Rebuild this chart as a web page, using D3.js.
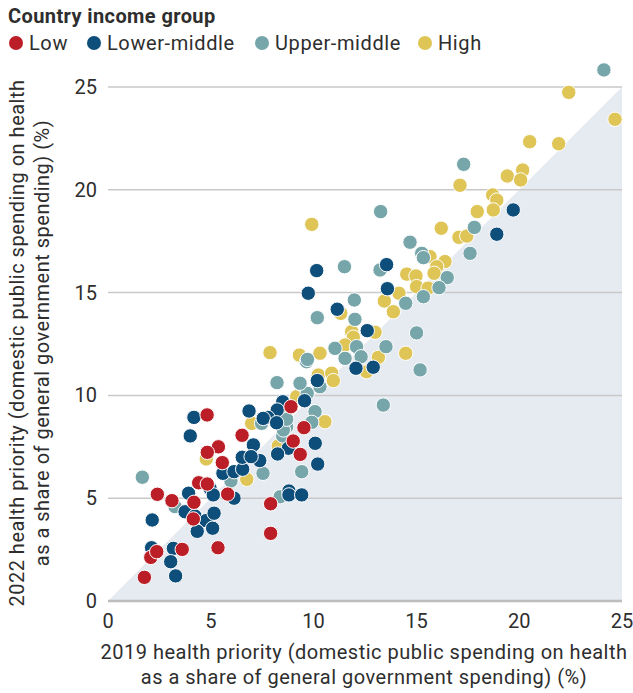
<!DOCTYPE html>
<html>
<head>
<meta charset="utf-8">
<script src="https://cdn.jsdelivr.net/npm/d3@7"></script>
<style>
  html, body { margin: 0; padding: 0; background: #fff; }
  svg { display: block; }
  text { font-family: "Roboto", "DejaVu Sans", sans-serif; fill: #2e2e2e; }
</style>
</head>
<body>
<svg id="chart" width="633" height="693"></svg>
<script>
// ---- Data ----
const groups = ["Low", "Lower-middle", "Upper-middle", "High"];
const groupColors = ["#BC1E27", "#0D4E7A", "#77A6AA", "#DEC555"];
const xTicks = [0, 5, 10, 15, 20, 25];
const yTicks = [0, 5, 10, 15, 20, 25];
const legendTitle = "Country income group";
const xTitle = ["2019 health priority (domestic public spending on health", "as a share of general government spending) (%)"];
const yTitle = ["2022 health priority (domestic public spending on health", "as a share of general government spending) (%)"];

// [2019, 2022] per country
const lowPoints = [
  [1.77,1.15],[2.08,2.12],[2.37,2.40],[3.61,2.51],[5.35,2.59],[2.40,5.19],[3.11,4.88],
  [4.18,4.80],[4.15,3.99],[4.41,5.75],[4.83,5.69],[5.82,5.20],[5.56,6.73],[5.37,7.50],
  [4.83,7.23],[4.82,9.05],[6.52,8.06],[7.91,4.73],[7.91,3.29],[9.01,7.78],[8.90,9.45],
  [9.53,8.43],[9.35,7.13]
];
const lowerMiddlePoints = [
  [2.15,3.94],[3.92,5.24],[3.75,4.34],[4.23,4.13],[4.77,3.91],[5.16,4.27],[5.09,3.54],
  [4.34,3.39],[4.96,5.48],[5.12,5.16],[6.13,5.00],[5.59,6.21],[6.13,6.29],[6.55,6.41],
  [6.53,6.99],[3.18,2.56],[3.05,1.91],[3.29,1.22],[2.12,2.59],[4.18,8.93],[4.00,8.03],
  [6.86,9.24],[7.07,7.59],[7.38,6.83],[8.80,5.35],[8.77,7.43],[8.25,7.15],[8.50,9.69],
  [10.18,10.72],[9.56,9.74],[10.08,7.67],[10.20,6.66],[8.80,5.16],[9.42,5.16],[8.23,9.29],
  [7.77,8.93],[7.55,8.88],[6.96,7.02],[10.15,16.07],[13.55,16.36],[9.74,14.97],[13.59,15.19],
  [11.15,14.19],[12.61,13.15],[12.06,11.32],[12.90,11.37],[8.20,8.67],[19.71,19.02],[18.91,17.84]
];
const upperMiddlePoints = [
  [1.67,6.02],[3.26,4.59],[5.98,5.84],[7.54,6.21],[8.37,5.07],[8.22,10.62],[9.37,10.55],
  [9.66,11.64],[8.29,9.13],[9.69,10.10],[10.07,9.21],[9.91,8.69],[9.42,6.29],[8.69,8.48],
  [8.50,8.03],[8.23,8.72],[7.47,8.64],[11.50,16.26],[13.23,16.10],[15.26,16.91],[16.50,15.73],
  [16.10,15.24],[15.34,14.80],[14.48,14.48],[11.98,14.64],[10.18,13.78],[12.01,13.70],
  [15.01,13.04],[12.09,12.37],[11.04,12.29],[13.52,12.37],[12.31,11.88],[11.53,11.80],
  [15.18,11.24],[9.70,11.75],[13.39,9.53],[10.31,10.42],[9.34,10.59],[8.53,8.32],
  [13.26,18.94],[17.82,18.17],[17.61,16.91],[14.69,17.45],[15.34,16.70],[24.12,25.83],
  [17.30,21.24],[8.69,8.84]
];
const highPoints = [
  [6.75,5.92],[4.78,6.91],[6.99,8.64],[8.28,7.54],[9.18,9.94],[10.20,11.00],[10.55,8.72],
  [9.91,18.32],[15.66,16.75],[16.39,16.51],[15.99,16.26],[15.86,15.94],[14.53,15.90],
  [14.98,15.81],[15.01,15.29],[15.57,15.22],[14.15,14.97],[13.44,14.59],[13.88,14.07],
  [11.32,13.99],[12.99,13.07],[11.85,13.10],[11.93,12.83],[11.53,12.45],[13.15,11.85],
  [14.48,12.05],[12.58,11.15],[7.88,12.08],[9.31,11.96],[10.31,12.05],[10.23,10.99],
  [10.88,11.08],[10.96,10.72],[17.96,18.94],[16.21,18.13],[17.07,17.69],[17.45,17.75],
  [22.41,24.74],[24.66,23.43],[20.51,22.34],[21.92,22.24],[17.12,20.22],[19.42,20.67],
  [20.17,20.96],[20.07,20.48],[18.71,19.75],[18.91,19.50],[18.74,19.02]
];
const seriesPoints = [lowPoints, lowerMiddlePoints, upperMiddlePoints, highPoints];

// ---- Layout ----
const W = 633, H = 693;
const margin = {left: 108, right: 11, top: 87, bottom: 92};
const svg = d3.select("#chart");
const x = d3.scaleLinear().domain([0, 25]).range([margin.left, W - margin.right]);
const y = d3.scaleLinear().domain([0, 25]).range([H - margin.bottom, margin.top]);
const fs = "20px", ls = "0.5px";

// Diagonal shaded triangle (below y = x)
svg.append("path")
  .attr("d", d3.line()([[x(0), y(0)], [x(25), y(0)], [x(25), y(25)]]) + "Z")
  .attr("fill", "#E6EAF1");

// Gridlines
svg.append("g").selectAll("line").data(yTicks).join("line")
  .attr("x1", x(0)).attr("x2", x(25))
  .attr("y1", d => y(d)).attr("y2", d => y(d))
  .attr("stroke", d => d === 0 ? "#BDBDBD" : "#C9C9C9")
  .attr("stroke-width", d => d === 0 ? 2.5 : 1.5);

// Y tick labels
svg.append("g").selectAll("text").data(yTicks).join("text")
  .attr("x", x(0) - 11).attr("y", d => y(d))
  .attr("dy", "0.35em").attr("text-anchor", "end")
  .style("font-size", fs).text(d => d);

// X tick labels
svg.append("g").selectAll("text").data(xTicks).join("text")
  .attr("x", d => x(d)).attr("y", y(0) + 20)
  .attr("dy", "0.35em").attr("text-anchor", "middle")
  .style("font-size", fs).text(d => d);

// Axis titles
svg.append("g").selectAll("text").data(xTitle).join("text")
  .attr("x", 364).attr("y", (d, i) => 659 + i * 25)
  .attr("text-anchor", "middle")
  .style("font-size", fs).style("letter-spacing", ls).text(d => d);

svg.append("g").attr("transform", "translate(0,343) rotate(-90)")
  .selectAll("text").data(yTitle).join("text")
  .attr("x", 0).attr("y", (d, i) => 24 + i * 25)
  .attr("text-anchor", "middle")
  .style("font-size", fs).style("letter-spacing", ls).text(d => d);

// Points: draw High first, then Upper-middle, Lower-middle, Low on top
const order = [3, 2, 1, 0];
order.forEach(gi => {
  svg.append("g").selectAll("circle").data(seriesPoints[gi]).join("circle")
    .attr("cx", d => x(d[0])).attr("cy", d => y(d[1]))
    .attr("r", 7.2)
    .attr("fill", groupColors[gi])
    .attr("stroke", "#fff").attr("stroke-width", 1);
});

// Legend
svg.append("text").attr("x", 8).attr("y", 23)
  .style("font-size", fs).style("letter-spacing", "0.4px").style("font-weight", "bold").text(legendTitle);
const legendX = [16, 94, 262, 425];
const lg = svg.append("g").selectAll("g").data(groups).join("g")
  .attr("transform", (d, i) => `translate(${legendX[i]},43)`);
lg.append("circle").attr("r", 7).attr("fill", (d, i) => groupColors[i]);
lg.append("text").attr("x", 13).attr("dy", "0.35em")
  .style("font-size", fs).style("letter-spacing", "0.6px").text(d => d);
</script>
</body>
</html>
